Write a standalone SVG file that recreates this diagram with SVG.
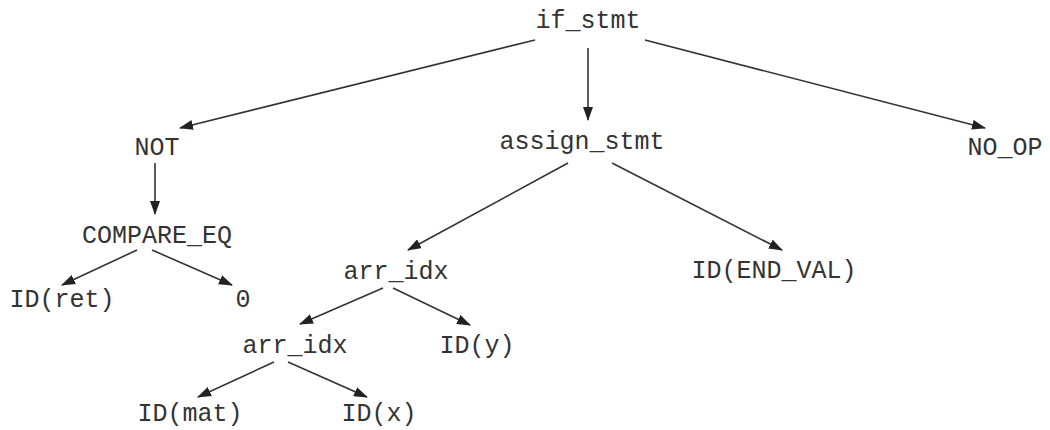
<svg xmlns="http://www.w3.org/2000/svg" width="1050" height="430" viewBox="0 0 1050 430">
<style>
text{font-family:"Liberation Mono","Courier New",monospace;font-size:25px;fill:#333;text-anchor:middle}
.e line{stroke:#333;stroke-width:1.6;marker-end:url(#ah)}
</style>
<defs>
<marker id="ah" markerWidth="14" markerHeight="10" refX="13" refY="5" orient="auto" markerUnits="userSpaceOnUse">
<path d="M0,0 L14,5 L0,10 Z" fill="#222"/>
</marker>
</defs>
<rect width="1050" height="430" fill="#fff"/>
<g class="e" id="connectors">
<line x1="535" y1="40" x2="180" y2="128"/>
<line x1="588" y1="48" x2="588" y2="120"/>
<line x1="645" y1="40" x2="985" y2="128"/>
<line x1="155" y1="163" x2="155" y2="214"/>
<line x1="137" y1="250" x2="62" y2="285"/>
<line x1="152" y1="250" x2="232" y2="285"/>
<line x1="568" y1="163" x2="408" y2="250"/>
<line x1="612" y1="163" x2="782" y2="250"/>
<line x1="383" y1="288" x2="300" y2="324"/>
<line x1="393" y1="288" x2="470" y2="325"/>
<line x1="274" y1="362" x2="198" y2="397"/>
<line x1="288" y1="362" x2="367" y2="397"/>
</g>
<g id="if_stmt"><text x="588" y="28">if_stmt</text></g>
<g id="not"><text x="157" y="155">NOT</text></g>
<g id="assign_stmt"><text x="582" y="149">assign_stmt</text></g>
<g id="no_op"><text x="1005" y="155">NO_OP</text></g>
<g id="compare_eq"><text x="157" y="243">COMPARE_EQ</text></g>
<g id="id_ret"><text x="62" y="307">ID(ret)</text></g>
<g id="zero"><text x="243" y="307">0</text></g>
<g id="arr_idx1"><text x="396" y="279">arr_idx</text></g>
<g id="id_end_val"><text x="774" y="278">ID(END_VAL)</text></g>
<g id="arr_idx2"><text x="295" y="353">arr_idx</text></g>
<g id="id_y"><text x="477" y="353">ID(y)</text></g>
<g id="id_mat"><text x="190" y="421">ID(mat)</text></g>
<g id="id_x"><text x="379" y="421">ID(x)</text></g>
</svg>
